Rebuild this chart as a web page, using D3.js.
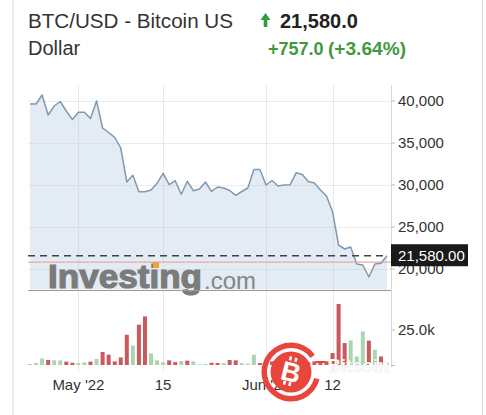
<!DOCTYPE html>
<html><head><meta charset="utf-8">
<script src="https://cdn.jsdelivr.net/npm/d3@7"></script>
<style>body{margin:0;background:#fff;} svg{display:block;font-family:"Liberation Sans",Arial,sans-serif;}</style>
</head><body><svg id="c" width="486" height="415"></svg>
<script>
// ---------- data ----------
const startDate = "2022-04-23";
const prices = [39643,39643,40714,38333,39405,39940,38810,37798,38655,38655,
                37917,40000,36786,36250,35679,34405,30357,31155,29202,29202,
                29405,30202,31393,30036,30512,28893,30440,29321,29524,30357,
                29250,29762,29643,29345,28774,29226,29643,31845,31845,30000,
                30536,29881,30000,30036,31464,31250,30417,30238,29405,28690,
                26821,22857,22381,22619,20595,20476,19048,20595,20679,21580];
const volumes = [700,1500,4700,3600,3300,3300,2400,1600,1400,1900,
                 2400,4300,9300,7400,2600,5400,21600,13800,28800,34700,
                 8300,3300,1900,3300,2100,2900,3100,2600,500,700,
                 1600,1400,1400,3600,3300,1400,900,7400,1400,3600,
                 2600,1500,1200,1000,2500,1400,1900,2600,2600,2600,
                 8600,43600,15700,17600,6100,24000,17400,10900,6100,1500];
const volUp = [1,1,1,0,1,1,0,0,1,1,
               0,1,0,0,0,0,0,1,0,0,
               1,1,1,0,0,1,0,1,1,1,
               0,0,1,0,0,1,1,1,0,0,
               0,1,0,1,1,0,0,0,0,0,
               0,0,0,1,1,1,0,1,0,1];
const priceTicks = [40000,35000,30000,25000,20000];
const volTicks = [25000];
const dateTicks = ["2022-05-01","2022-05-15","2022-06-01","2022-06-12"];
const dateTickLabels = ["May '22","15","Jun '22","12"];
const lastPrice = 21580;
const prevClose = 20823;
const titleLines = ["BTC/USD - Bitcoin US","Dollar"];
const priceText = "21,580.0";
const changeText = "+757.0";
const changePctText = "(+3.64%)";

// ---------- setup ----------
const svg = d3.select("#c");
const parse = d3.utcParse("%Y-%m-%d");
const d0 = parse(startDate);
const dates = prices.map((_, i) => d3.utcDay.offset(d0, i));
const data = prices.map((p, i) => ({date: dates[i], price: p, vol: volumes[i], up: volUp[i]}));

const left = 28, right = 391, paneTop = 85, paneBottom = 290.5, volBase = 365, bottomAll = 372;
const x = d3.scaleUtc().domain([dates[0], dates[dates.length-1]]).range([30, 387]);
const y = d3.scaleLinear().domain([20000, 40000]).range([269, 101]);
const yv = d3.scaleLinear().domain([0, 25000]).range([volBase, 330]);

// card borders
svg.append("line").attr("x1",13).attr("x2",13).attr("y1",0).attr("y2",415).attr("stroke","#dcdcdc");
svg.append("line").attr("x1",482.5).attr("x2",482.5).attr("y1",0).attr("y2",415).attr("stroke","#dcdcdc");

// header
svg.append("text").attr("x",28).attr("y",28).attr("font-size",20).attr("fill","#333")
  .attr("textLength",205).attr("lengthAdjust","spacingAndGlyphs").text(titleLines[0]);
svg.append("text").attr("x",28).attr("y",55).attr("font-size",20).attr("fill","#333").text(titleLines[1]);
svg.append("path").attr("d","M265.5,13 L270.5,20 L267.3,20 L267.3,27 L263.7,27 L263.7,20 L260.5,20 Z").attr("fill","#2e9d3c");
svg.append("text").attr("x",280).attr("y",28).attr("font-size",20).attr("font-weight","bold").attr("fill","#222").text(priceText);
svg.append("text").attr("x",268).attr("y",55).attr("font-size",18).attr("font-weight","bold").attr("fill","#3f9a3f").text(changeText);
svg.append("text").attr("x",328).attr("y",55).attr("font-size",18).attr("font-weight","bold").attr("fill","#3f9a3f")
  .attr("textLength",78).attr("lengthAdjust","spacingAndGlyphs").text(changePctText);

// area + line
const area = d3.area().x(d => x(d.date)).y0(paneBottom - 1).y1(d => y(d.price));
svg.append("path").datum(data).attr("d", area).attr("fill","#e3ebf4");

// gridlines
const gridG = svg.append("g");
priceTicks.forEach(t => {
  gridG.append("line").attr("x1",left).attr("x2",right).attr("y1",Math.round(y(t))+0.5).attr("y2",Math.round(y(t))+0.5)
    .attr("stroke","rgba(200,200,200,0.35)");
});
dateTicks.forEach(t => {
  const xx = Math.round(x(parse(t))) + 0.5;
  gridG.append("line").attr("x1",xx).attr("x2",xx).attr("y1",paneTop).attr("y2",bottomAll).attr("stroke","rgba(200,200,200,0.4)");
});

// watermark
svg.append("text").attr("x",48).attr("y",288).attr("font-size",33).attr("font-weight","bold")
  .attr("fill","#7b7b7b").attr("stroke","#7b7b7b").attr("stroke-width",1.2)
  .attr("textLength",154).attr("lengthAdjust","spacingAndGlyphs").text("Investing");
svg.append("rect").attr("x",153).attr("y",262).attr("width",6).attr("height",6).attr("fill","#efa13a");
svg.append("text").attr("x",204).attr("y",289).attr("font-size",24).attr("fill","#858585").text(".com");

// price line
const line = d3.line().x(d => x(d.date)).y(d => y(d.price));
svg.append("path").datum(data).attr("d", line).attr("fill","none").attr("stroke","#8199ae").attr("stroke-width",1.5).attr("stroke-linejoin","round");

// prev close & last price lines
svg.append("line").attr("x1",left).attr("x2",right).attr("y1",y(prevClose)).attr("y2",y(prevClose)).attr("stroke","#e59b86").attr("stroke-width",1);
svg.append("line").attr("x1",left).attr("x2",388).attr("y1",y(lastPrice)).attr("y2",y(lastPrice)).attr("stroke","#444").attr("stroke-width",1.6).attr("stroke-dasharray","7,5");

// pane bottom line
svg.append("line").attr("x1",left).attr("x2",right).attr("y1",paneBottom).attr("y2",paneBottom).attr("stroke","#9a9a9a");

// volume bars
svg.append("g").selectAll("rect").data(data).join("rect")
  .attr("x", d => x(d.date) - 2).attr("width", 4)
  .attr("y", d => yv(d.vol)).attr("height", d => volBase - yv(d.vol))
  .attr("fill", d => d.up ? "#a9d5b3" : "#c9595d");

// right axis
svg.append("line").attr("x1",right+0.5).attr("x2",right+0.5).attr("y1",paneTop).attr("y2",367).attr("stroke","#d8d8d8");
const fmt = d3.format(",");
priceTicks.forEach(t => {
  svg.append("line").attr("x1",right).attr("x2",right+4).attr("y1",y(t)).attr("y2",y(t)).attr("stroke","#bbb");
  svg.append("text").attr("x",398).attr("y",y(t)+5).attr("font-size",15).attr("fill","#333").text(fmt(t));
});
volTicks.forEach(t => {
  svg.append("line").attr("x1",right).attr("x2",right+4).attr("y1",yv(t)).attr("y2",yv(t)).attr("stroke","#bbb");
  svg.append("text").attr("x",398).attr("y",yv(t)+5).attr("font-size",15).attr("fill","#333").text(d3.format(".1f")(t/1000)+"k");
});
svg.append("line").attr("x1",right).attr("x2",right+4).attr("y1",volBase+0.5).attr("y2",volBase+0.5).attr("stroke","#bbb");
// last price label
const ly = y(lastPrice);
svg.append("rect").attr("x",391).attr("y",ly-11.5).attr("width",77).attr("height",22).attr("fill","#1a1a1a");
svg.append("text").attr("x",398).attr("y",ly+5).attr("font-size",15).attr("fill","#fff").text(d3.format(",.2f")(lastPrice));

// x axis labels
dateTicks.forEach((t, i) => {
  svg.append("text").attr("x",x(parse(t))).attr("y",390).attr("font-size",15).attr("fill","#333")
    .attr("text-anchor","middle").text(dateTickLabels[i]);
});

// bitcoin watermark logo
const lg = svg.append("g").attr("transform","translate(291,372)");
lg.append("path").attr("d", d3.arc().innerRadius(24).outerRadius(29.5).startAngle(Math.PI*0.58).endAngle(Math.PI*2.3)()).attr("fill","#e8463d");
lg.append("circle").attr("r",20.5).attr("fill","#e8463d");
const bg = lg.append("g").attr("transform","rotate(14)");
bg.append("text").attr("x",0).attr("y",9.5).attr("text-anchor","middle").attr("font-size",27).attr("font-weight","bold").attr("fill","#fff").text("B");
bg.append("rect").attr("x",-5).attr("y",-15).attr("width",2.5).attr("height",4).attr("fill","#fff");
bg.append("rect").attr("x",0.5).attr("y",-15).attr("width",2.5).attr("height",4).attr("fill","#fff");
bg.append("rect").attr("x",-5).attr("y",10).attr("width",2.5).attr("height",4).attr("fill","#fff");
bg.append("rect").attr("x",0.5).attr("y",10).attr("width",2.5).attr("height",4).attr("fill","#fff");
svg.append("line").attr("x1",316).attr("x2",326).attr("y1",362).attr("y2",362).attr("stroke","#e8463d").attr("stroke-width",2);
svg.append("text").attr("x",328).attr("y",372).attr("font-size",18).attr("font-weight","bold")
  .attr("fill","#fff").attr("stroke","rgba(0,0,0,0.1)").attr("stroke-width",0.8).text("Bitcoin");
</script></body></html>
